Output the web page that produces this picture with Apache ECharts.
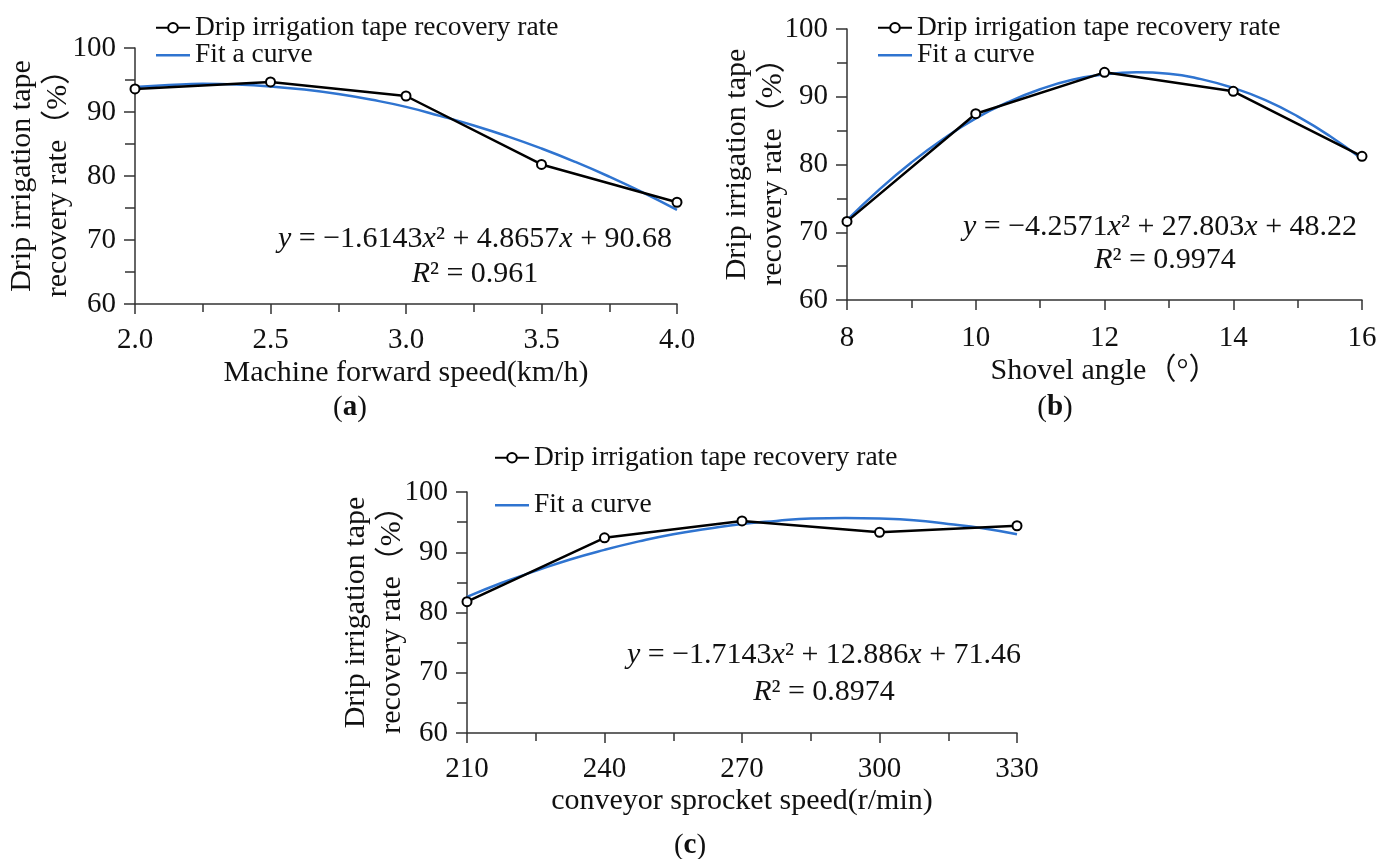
<!DOCTYPE html>
<html>
<head>
<meta charset="utf-8">
<script src="https://cdn.jsdelivr.net/npm/echarts@6/dist/echarts.min.js"></script>
<style>
  html, body { margin: 0; padding: 0; background: #fff; }
  #container { width: 1392px; height: 859px; }
</style>
</head>
<body>
<div id="container"></div>
<script>
// (a) machine forward speed
var speedX = [2.0, 2.5, 3.0, 3.5, 4.0];
var speedRate = [93.6, 94.7, 92.5, 81.8, 75.9];
var speedFitX = [2.0, 2.125, 2.25, 2.375, 2.5, 2.625, 2.75, 2.875, 3.0,
                 3.125, 3.25, 3.375, 3.5, 3.625, 3.75, 3.875, 4.0];
var speedFit = [93.9, 94.2, 94.4, 94.3, 94.0, 93.5, 92.8, 91.9, 90.8,
                89.4, 87.9, 86.2, 84.3, 82.2, 79.9, 77.4, 74.7];

// (b) shovel angle
var angleX = [8, 10, 12, 14, 16];
var angleRate = [71.6, 87.5, 93.6, 90.8, 81.2];
var angleFitX = [8, 8.5, 9, 9.5, 10, 10.5, 11, 11.5, 12,
                 12.5, 13, 13.5, 14, 14.5, 15, 15.5, 16];
var angleFit = [71.8, 76.3, 80.3, 83.8, 86.8, 89.2, 91.1, 92.5, 93.3,
                93.6, 93.4, 92.6, 91.3, 89.5, 87.1, 84.2, 80.8];

// (c) conveyor sprocket speed
var sprocketX = [210, 240, 270, 300, 330];
var sprocketRate = [81.8, 92.4, 95.2, 93.3, 94.4];
var sprocketFitX = [210, 217.5, 225, 232.5, 240, 247.5, 255, 262.5, 270,
                    277.5, 285, 292.5, 300, 307.5, 315, 322.5, 330];
var sprocketFit = [82.6, 84.9, 86.9, 88.8, 90.4, 91.8, 93.0, 93.9, 94.7,
                   95.2, 95.6, 95.7, 95.6, 95.3, 94.7, 94.0, 93.0];

var yTicks = [60, 70, 80, 90, 100];

var rateName = 'Drip irrigation tape recovery rate';
var fitName = 'Fit a curve';
var FONT = '"Liberation Serif", "Times New Roman", "Noto Sans CJK SC", serif';
var BLUE = '#2F74D0';
var AXIS = '#333';

function pairs(xs, ys) {
    return xs.map(function (x, i) { return [x, ys[i]]; });
}

function xAxis(idx, min, max, interval, name, digits, labelMargin, nameGap) {
    return {
        gridIndex: idx,
        type: 'value',
        min: min, max: max, interval: interval,
        name: name,
        nameLocation: 'middle',
        nameGap: nameGap,
        nameMoveOverlap: false,
        nameTextStyle: { fontFamily: FONT, fontSize: 30, color: '#111' },
        axisLine: { lineStyle: { color: AXIS, width: 1.5 } },
        axisTick: { length: 10, lineStyle: { color: AXIS, width: 1.5 } },
        minorTick: { show: true, splitNumber: 2, length: 8, lineStyle: { color: AXIS, width: 1.5 } },
        axisLabel: {
            fontFamily: FONT, fontSize: 29, color: '#111', margin: labelMargin,
            formatter: function (v) { return v.toFixed(digits); }
        },
        splitLine: { show: false }
    };
}

function yAxis(idx, nameGap) {
    return {
        gridIndex: idx,
        type: 'value',
        min: yTicks[0], max: yTicks[yTicks.length - 1], interval: 10,
        name: 'Drip irrigation tape\nrecovery rate（%）',
        nameLocation: 'middle',
        nameRotate: 90,
        nameGap: nameGap,
        nameMoveOverlap: false,
        nameTextStyle: { fontFamily: FONT, fontSize: 30, color: '#111', lineHeight: 36 },
        axisLine: { show: true, lineStyle: { color: AXIS, width: 1.5 } },
        axisTick: { show: true, length: 11, lineStyle: { color: AXIS, width: 1.5 } },
        minorTick: { show: true, splitNumber: 2, length: 10, lineStyle: { color: AXIS, width: 1.5 } },
        axisLabel: { fontFamily: FONT, fontSize: 29, color: '#111', margin: 19 },
        splitLine: { show: false }
    };
}

function rateSeries(idx, data) {
    return {
        name: rateName, type: 'line', xAxisIndex: idx, yAxisIndex: idx,
        data: data, symbol: 'emptyCircle', symbolSize: 9, z: 3,
        color: '#000',
        lineStyle: { color: '#000', width: 2.5 },
        itemStyle: { color: '#000', borderWidth: 1.5 }
    };
}

function fitSeries(idx, data) {
    return {
        name: fitName, type: 'line', xAxisIndex: idx, yAxisIndex: idx,
        data: data, smooth: true, showSymbol: false, symbol: 'none', z: 2,
        color: BLUE,
        lineStyle: { color: BLUE, width: 2.5 }
    };
}

function legend(left, top, lineHeight, gap) {
    return {
        data: [rateName, { name: fitName, icon: 'path://M0,0L34,0L34,2.5L0,2.5Z' }],
        orient: 'vertical', left: left, top: top,
        itemWidth: 34, itemHeight: 12, itemGap: gap,
        textStyle: { fontFamily: FONT, fontSize: 27.5, color: '#111', lineHeight: lineHeight }
    };
}

var rich = {
    i: { fontFamily: FONT, fontSize: 30, fontStyle: 'italic', color: '#111' },
    n: { fontFamily: FONT, fontSize: 30, color: '#111' },
    b: { fontFamily: FONT, fontSize: 29, fontWeight: 'bold', color: '#111' },
    p: { fontFamily: FONT, fontSize: 29, color: '#111' }
};

function eqText(x, y, parts) {
    return {
        type: 'text', x: x, y: y,
        style: { text: parts, rich: rich, align: 'center', verticalAlign: 'middle', fontFamily: FONT, fontSize: 30, fill: '#111' }
    };
}

var option = {
    animation: false,
    backgroundColor: '#fff',
    grid: [
        { left: 135, top: 48, width: 542, height: 256, outerBoundsMode: 'none', containLabel: false },
        { left: 847, top: 29, width: 515, height: 271, outerBoundsMode: 'none', containLabel: false },
        { left: 467, top: 492, width: 550, height: 241, outerBoundsMode: 'none', containLabel: false }
    ],
    xAxis: [
        xAxis(0, 2, 4, 0.5, 'Machine forward speed(km/h)', 1, 22, 54),
        xAxis(1, 8, 16, 2, 'Shovel angle（°）', 0, 24, 56),
        xAxis(2, 210, 330, 30, 'conveyor sprocket speed(r/min)', 0, 22, 53)
    ],
    yAxis: [yAxis(0, 59), yAxis(1, 56), yAxis(2, 57)],
    legend: [legend(150, 9, 26, 0), legend(872, 9, 27, 0), legend(489, 439, 27, 20)],
    series: [
        fitSeries(0, pairs(speedFitX, speedFit)),
        rateSeries(0, pairs(speedX, speedRate)),
        fitSeries(1, pairs(angleFitX, angleFit)),
        rateSeries(1, pairs(angleX, angleRate)),
        fitSeries(2, pairs(sprocketFitX, sprocketFit)),
        rateSeries(2, pairs(sprocketX, sprocketRate))
    ],
    graphic: [
        eqText(475, 239, '{i|y}{n| = −1.6143}{i|x}{n|² + 4.8657}{i|x}{n| + 90.68}'),
        eqText(475, 274, '{i|R}{n|² = 0.961}'),
        eqText(1160, 227, '{i|y}{n| = −4.2571}{i|x}{n|² + 27.803}{i|x}{n| + 48.22}'),
        eqText(1165, 260, '{i|R}{n|² = 0.9974}'),
        eqText(824, 655, '{i|y}{n| = −1.7143}{i|x}{n|² + 12.886}{i|x}{n| + 71.46}'),
        eqText(824, 692, '{i|R}{n|² = 0.8974}'),
        eqText(350, 408, '{p|(}{b|a}{p|)}'),
        eqText(1055, 408, '{p|(}{b|b}{p|)}'),
        eqText(690, 846, '{p|(}{b|c}{p|)}')
    ]
};

var myChart = echarts.init(document.getElementById('container'));
myChart.setOption(option);
</script>
</body>
</html>
